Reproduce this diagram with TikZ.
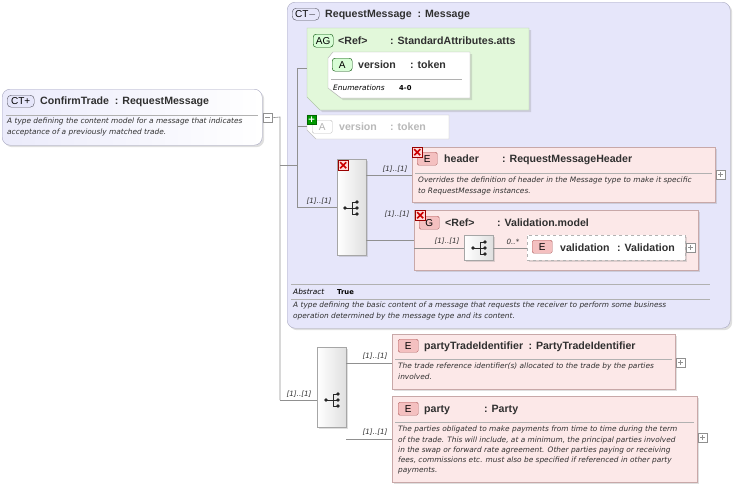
\documentclass[tikz,border=0pt]{standalone}
\usepackage{fontspec}
\setmainfont{DejaVu Sans}
\newfontfamily\ttlfont{Liberation Sans}
\usetikzlibrary{calc,shadows}
\definecolor{ctfill}{HTML}{E6E6FA}
\definecolor{ctline}{HTML}{A8A8C0}
\definecolor{agfill}{HTML}{E2F8DA}
\definecolor{agline}{HTML}{B0C8A8}
\definecolor{efill}{HTML}{FCE8E8}
\definecolor{eline}{HTML}{C8A8A8}
\definecolor{ebadge}{HTML}{F4C0C0}
\definecolor{ebadgeline}{HTML}{B06060}
\definecolor{conn}{HTML}{909090}
\definecolor{txt}{HTML}{303030}
\tikzset{
 box/.style={anchor=north west, inner sep=0pt},
 shad/.style={drop shadow={shadow xshift=2pt, shadow yshift=-2pt, opacity=0.25}},
 ctbox/.style={box, draw=ctline, fill=ctfill, rounded corners=8pt, shad},
 ebox/.style={box, draw=eline, fill=efill, shad},
 seqbox/.style={box, draw=conn!80, left color=white, right color=gray!25, shad},
 badge/.style={draw, rounded corners=1.5pt, minimum width=20pt, minimum height=13pt, inner sep=0pt, anchor=north west, font=\ttlfont\fontsize{10}{10}\selectfont},
 eb/.style={badge, fill=ebadge, draw=ebadgeline},
 ttl/.style={anchor=base west, inner sep=0pt, font=\ttlfont\bfseries\fontsize{10.6}{11}\selectfont, text=txt},
 dsc/.style={anchor=north west, inner sep=0pt, font=\itshape\fontsize{7.4}{10.2}\selectfont, text=txt, align=left},
 mult/.style={inner sep=0pt, font=\itshape\fontsize{7.2}{8}\selectfont, text=txt},
 cn/.style={draw=conn, line width=0.6pt},
 sep/.style={draw=conn!70, line width=0.5pt},
 xic/.style={draw=red!60!black, fill=red!15, minimum size=10pt, inner sep=0pt, anchor=north west, path picture={\draw[red!80!black, line width=1.6pt] ([shift={(2pt,-2pt)}]path picture bounding box.north west) -- ([shift={(-2pt,2pt)}]path picture bounding box.south east) ([shift={(2pt,2pt)}]path picture bounding box.south west) -- ([shift={(-2pt,-2pt)}]path picture bounding box.north east);}},
 exp/.style={draw=conn, fill=white, minimum size=9pt, inner sep=0pt, anchor=north west},
 pics/seqsym/.style={code={
   \fill[gray!30!black] (-7,0) circle (1.8pt);
   \draw[gray!30!black, line width=0.8pt] (-7,0) -- (0,0) (0,-6) -- (0,6) (0,-6) -- (5,-6) (0,0) -- (5,0) (0,6) -- (5,6);
   \fill[gray!30!black] (5,-6) circle (1.8pt) (5,0) circle (1.8pt) (5,6) circle (1.8pt);
 }},
}
\begin{document}
\begin{tikzpicture}[x=1pt,y=-1pt]
\useasboundingbox (0,0) rectangle (733,488);
% ConfirmTrade
\node[ctbox, minimum width=260pt, minimum height=56pt, left color=ctfill!80, right color=white] (ct) at (2,89) {};
\node[badge, fill=ctfill, draw=ctline!50!black, rounded corners=4pt, minimum width=27pt, minimum height=12pt] (ctb) at (7,95) {CT+};
\node[ttl] (ctt) at (40,104) {ConfirmTrade\ \ : RequestMessage};
\draw[sep] (6,115) -- (258,115);
\node[dsc] (ctd) at (7,118) {A type defining the content model for a message that indicates\\acceptance of a previously matched trade.};
\node[exp] (ctx) at (263,113) {};
\draw[conn, line width=0.5pt] (ctx.west) ++(2,0) -- ++(5,0);
% main connectors
\coordinate (j1) at (280,117);
\coordinate (j2) at (280,400);
\draw[cn] (ctx.east) -- (j1) -- (j2);
% RequestMessage
\node[ctbox, minimum width=443pt, minimum height=326pt] (rm) at (287,2) {};
\node[badge, fill=ctfill, draw=ctline!50!black, rounded corners=4pt, minimum width=27pt, minimum height=12pt] (rmb) at (292,8) {CT$-$};
\node[ttl] (rmt) at (325,17) {RequestMessage\ \ : Message};
\draw[cn] (280,165) -- (297,165);
\coordinate (v1) at (297,68);
\coordinate (v2) at (297,207);
\draw[cn] (v1) -- (v2);
% AG box
\draw[draw=agline, fill=agfill, shad] (307,28) -- (529,28) -- (529,110) -- (320,110) -- (307,97) -- cycle;
\node[box, minimum width=222pt, minimum height=82pt] (ag) at (307,28) {};
\node[badge, fill=agfill!70!green!40, draw=green!30!black, rounded corners=3pt] (agb) at (313,34) {AG};
\node[ttl] (agt) at (338,44) {<Ref>};
\node[ttl] (agt2) at (390,44) {: StandardAttributes.atts};
\draw[draw=gray!60, fill=white, shad] (333,52) -- (470,52) -- (470,98) -- (341,98) -- (328,88) -- (328,58) -- cycle;
\node[box, minimum width=142pt, minimum height=46pt] (av) at (328,52) {};
\node[badge, fill=agfill!70!green!40, draw=green!30!black, rounded corners=3pt] (avb) at (332,58) {A};
\node[ttl] (avt) at (358,68) {version};
\node[ttl] (avt2) at (410,68) {: token};
\draw[sep] (331,79) -- (462,79);
\node[anchor=base west, inner sep=0pt, font=\itshape\fontsize{7.4}{8}\selectfont] (enl) at (333,90) {Enumerations};
\node[anchor=base west, inner sep=0pt, font=\bfseries\fontsize{6.8}{8}\selectfont] (env) at (399,90) {4-0};
\draw[cn] (v1) -- (ag.west |- v1);
% grayed version
\draw[draw=gray!50, fill=white] (307,115) -- (449,115) -- (449,139) -- (316,139) -- (307,130) -- cycle;
\node[box, minimum width=142pt, minimum height=24pt] (gv) at (307,115) {};
\node[badge, draw=gray!50, text=gray!60, fill=white] (gvb) at (312,120) {A};
\node[ttl, text=gray!55] (gvt) at (339,130) {version};
\node[ttl, text=gray!55] (gvt2) at (390,130) {: token};
\node[draw=green!40!black, fill=green!60!black, minimum size=9pt, inner sep=0pt, anchor=north west, text=white, font=\bfseries\fontsize{9}{9}\selectfont] (gvp) at (307,115) {+};
\draw[cn] (297,126) -- (gv.west |- 297,126);
% sequence 1
\node[seqbox, minimum width=29pt, minimum height=96pt] (s1) at (337,159) {};
\pic at (352,208) {seqsym};
\node[xic] (s1x) at (338,160) {};
\draw[cn] (v2) -- (s1.west |- v2);
\node[mult, anchor=south] (m1) at (319,205) {[1]..[1]};
% header
\node[ebox, minimum width=303pt, minimum height=55pt] (hd) at (412,147) {};
\node[eb] (hdb) at (417,152) {E};
\node[xic] (hdx) at (412,147) {};
\node[ttl] (hdt) at (444,162) {header};
\node[ttl] (hdt2) at (502,162) {: RequestMessageHeader};
\draw[sep] (415,173) -- (712,173);
\node[dsc] (hdd) at (418,177) {Overrides the definition of header in the Message type to make it specific\\to RequestMessage instances.};
\node[exp] (hdex) at (716,170) {};
\draw[conn, line width=0.5pt] (hdex.center) ++(-2.5,0) -- ++(5,0) (hdex.center) ++(0,-2.5) -- ++(0,5);
\draw[cn] (s1.east |- 0,175) -- (hd.west |- 0,175);
\node[mult, anchor=south] (m2) at (395,173) {[1]..[1]};
% group
\node[box, draw=eline, fill=efill, shad, minimum width=284pt, minimum height=60pt] (gr) at (414,210) {};
\node[eb] (grb) at (419,216) {G};
\node[xic] (grx) at (415,210) {};
\node[ttl] (grt) at (445,226) {<Ref>};
\node[ttl] (grt2) at (497,226) {: Validation.model};
\draw[cn] (s1.east |- 0,240) -- (gr.west |- 0,240);
\node[mult, anchor=south] (m3) at (397,218) {[1]..[1]};
\node[seqbox, minimum width=29pt, minimum height=25pt] (s2) at (464,235) {};
\pic at (480,248) {seqsym};
\draw[cn] (gr.west |- 0,248) -- (s2.west |- 0,248);
\node[mult, anchor=south] (m4) at (447,245) {[1]..[1]};
\node[box, draw=gray!60, dashed, fill=white, shad, minimum width=158pt, minimum height=25pt] (va) at (527,235) {};
\node[eb] (vab) at (532,240) {E};
\node[ttl] (vat) at (560,251) {validation};
\node[ttl] (vat2) at (617,251) {: Validation};
\draw[cn] (s2.east |- 0,248) -- (va.west |- 0,248);
\node[mult, anchor=south] (m5) at (513,245) {0..*};
\node[exp] (vaex) at (686,243) {};
\draw[conn, line width=0.5pt] (vaex.center) ++(-2.5,0) -- ++(5,0) (vaex.center) ++(0,-2.5) -- ++(0,5);
% abstract
\draw[sep] (291,284) -- (710,284);
\node[anchor=base west, inner sep=0pt, font=\itshape\fontsize{7.4}{8}\selectfont] (abl) at (293,294) {Abstract};
\node[anchor=base west, inner sep=0pt, font=\bfseries\fontsize{6.8}{8}\selectfont] (abv) at (337,294) {True};
\draw[sep] (291,299) -- (710,299);
\node[dsc] (abd) at (293,302) {A type defining the basic content of a message that requests the receiver to perform some business\\operation determined by the message type and its content.};
% sequence 3
\node[seqbox, minimum width=29pt, minimum height=80pt] (s3) at (317,347) {};
\pic at (333,400) {seqsym};
\draw[cn] (j2) -- (s3.west |- j2);
\node[mult, anchor=south] (m6) at (299,398) {[1]..[1]};
% partyTradeIdentifier
\node[ebox, minimum width=283pt, minimum height=55pt] (pt) at (392,334) {};
\node[eb] (ptb) at (398,339) {E};
\node[ttl] (ptt) at (424,349) {partyTradeIdentifier};
\node[ttl, anchor=base west] (ptt2) at ([xshift=5pt]ptt.base east) {: PartyTradeIdentifier};
\draw[sep] (395,359) -- (672,359);
\node[dsc] (ptd) at (398,363) {The trade reference identifier(s) allocated to the trade by the parties\\involved.};
\node[exp] (ptex) at (676,358) {};
\draw[conn, line width=0.5pt] (ptex.center) ++(-2.5,0) -- ++(5,0) (ptex.center) ++(0,-2.5) -- ++(0,5);
\draw[cn] (s3.east |- 0,363) -- (pt.west |- 0,363);
\node[mult, anchor=south] (m7) at (375,360) {[1]..[1]};
% party
\node[ebox, minimum width=305pt, minimum height=86pt] (pa) at (392,396) {};
\node[eb] (pab) at (398,402) {E};
\node[ttl] (pat) at (424,412) {party};
\node[ttl] (pat2) at (484,412) {: Party};
\draw[sep] (395,422) -- (694,422);
\node[dsc] (pad) at (398,426) {The parties obligated to make payments from time to time during the term\\of the trade. This will include, at a minimum, the principal parties involved\\in the swap or forward rate agreement. Other parties paying or receiving\\fees, commissions etc. must also be specified if referenced in other party\\payments.};
\node[exp] (paex) at (698,433) {};
\draw[conn, line width=0.5pt] (paex.center) ++(-2.5,0) -- ++(5,0) (paex.center) ++(0,-2.5) -- ++(0,5);
\draw[cn] (s3.east |- 0,439) -- (pa.west |- 0,439);
\node[mult, anchor=south] (m8) at (375,436) {[1]..[1]};
\end{tikzpicture}
\end{document}
